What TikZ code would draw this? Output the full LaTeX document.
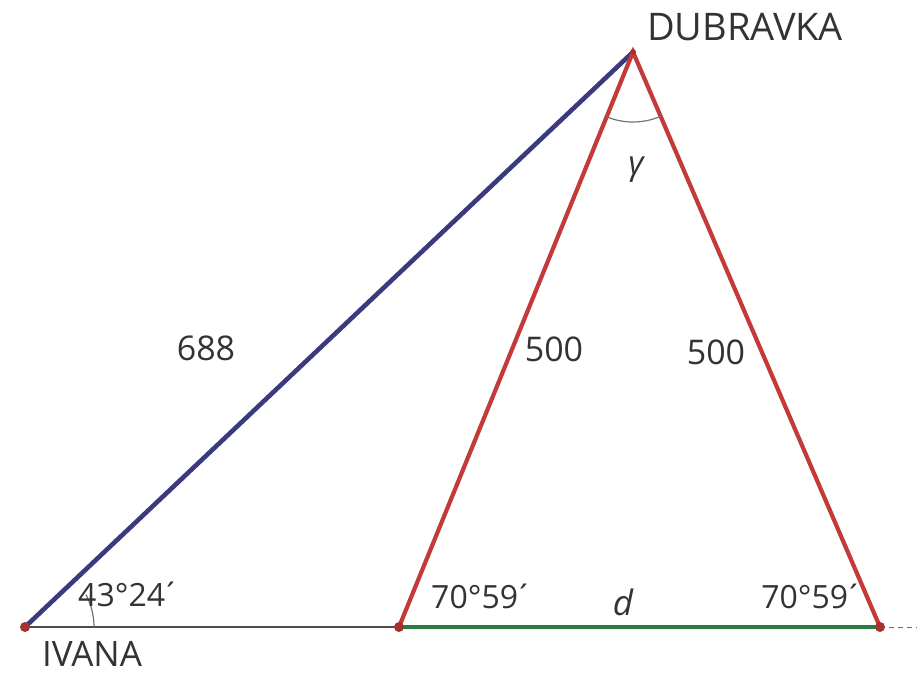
\documentclass[tikz,border=0pt]{standalone}
\usepackage{fontspec}
\setmainfont{Open Sans}
\usetikzlibrary{calc}
\definecolor{cblue}{HTML}{3A3A7E}
\definecolor{cred}{HTML}{C23A3A}
\definecolor{cgreen}{HTML}{2E7A45}
\newcommand{\prm}{\kern-0.12em´}
\begin{document}
\begin{tikzpicture}[x=1pt,y=-1pt,
  lbl/.style={font=\fontsize{36}{42}\selectfont, text=black!80, inner sep=0pt},
  albl/.style={font=\fontsize{32}{38}\selectfont, text=black!80, inner sep=0pt},
  vdot/.style={circle, fill=cred!85!black, inner sep=0pt, minimum size=10pt},
  blueline/.style={draw=cblue, line width=4.6pt},
  redline/.style={draw=cred, line width=4.2pt},
  greenline/.style={draw=cgreen, line width=3.4pt},
  baseline/.style={draw=black!70, line width=1.8pt},
  arcline/.style={draw=black!55, line width=1.2pt}]
\useasboundingbox (0,0) rectangle (917,674);
\coordinate (I) at (25,627);
\coordinate (D) at (633,52);
\coordinate (A) at (399,627);
\coordinate (B) at (880,627);
\coordinate (E) at (917,627);
% lines
\draw[baseline] (I) -- (A);
\draw[greenline] (A) -- (B);
\draw[draw=black!60, line width=1pt, dash pattern=on 5pt off 4pt] (B) -- (E);
\draw[blueline] (I) -- (D);
\draw[redline, line join=miter] (A) -- (D) -- (B);
% angle arcs
\draw[arcline] ($(I)+(69,0)$) arc[start angle=0, end angle=-28, radius=69];
\draw[arcline] (D) ++(113:70) arc[start angle=113, end angle=66, radius=70];
% vertices
\node[vdot] (nI) at (I) {};
\node[vdot] (nA) at (A) {};
\node[vdot] (nB) at (B) {};
\node[circle, fill=cred!85!black, inner sep=0pt, minimum size=6pt] (nD) at (D) {};
% labels
\node[lbl, font=\fontsize{38}{42}\selectfont] (tD) at (745,27) {DUBRAVKA};
\node[lbl, font=\fontsize{35}{42}\selectfont] (tI) at (92,654) {IVANA};
\node[lbl, font=\fontsize{34}{42}\selectfont] (t688) at (206,348) {688};
\node[lbl, font=\fontsize{34}{42}\selectfont] (t500a) at (554,349) {500};
\node[lbl, font=\fontsize{34}{42}\selectfont] (t500b) at (716,352) {500};
\node[lbl, font=\fontsize{33}{38}\selectfont\itshape] (tg) at (636,170) {γ};
\node[albl] (ta) at (129,594) {43°24\prm};
\node[albl] (tb) at (482,596) {70°59\prm};
\node[albl] (tc) at (812,596) {70°59\prm};
\node[lbl, font=\fontsize{35}{42}\selectfont\itshape] (td) at (623,602) {d};
\end{tikzpicture}
\end{document}
